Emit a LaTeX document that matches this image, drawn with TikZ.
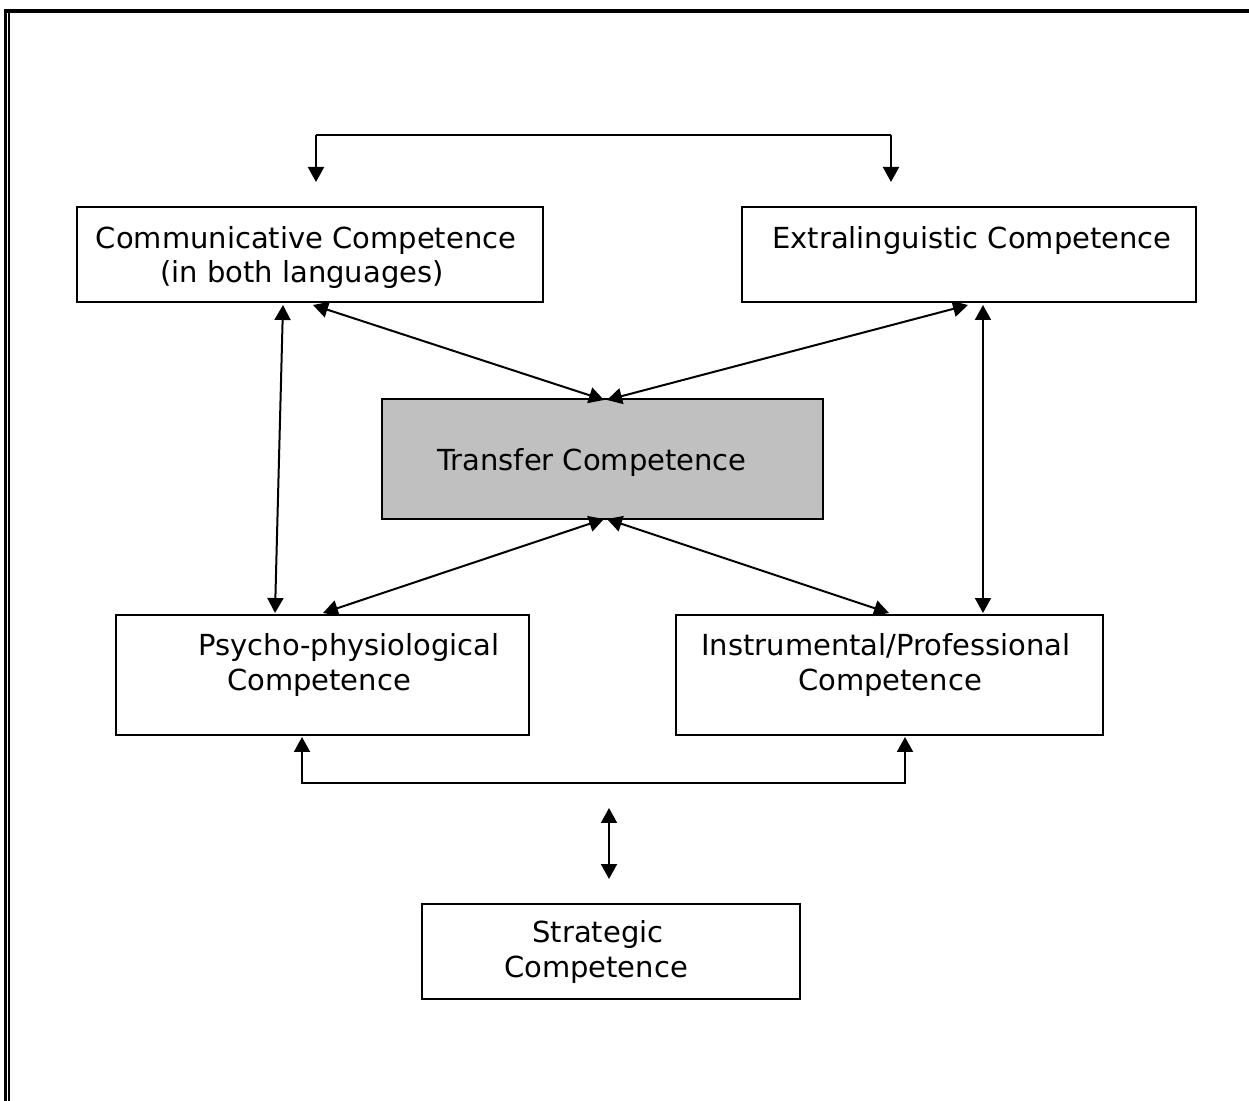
\documentclass[tikz,border=0pt]{standalone}
\usepackage{fontspec}
\setmainfont{DejaVu Sans}
\usetikzlibrary{arrows.meta}
\definecolor{boxgray}{RGB}{192,192,192}
\begin{document}
\begin{tikzpicture}[x=0.02cm,y=-0.02cm,
  box/.style={draw=black,line width=0.04cm,inner sep=0pt,outer sep=0pt},
  lbl/.style={anchor=base,inner sep=0pt,font=\fontsize{16.5}{19.8}\selectfont},
  conn/.style={line width=0.04cm,-{Triangle[length=0.3cm,width=0.32cm]}},
  dconn/.style={line width=0.04cm,{Triangle[length=0.3cm,width=0.32cm]}-{Triangle[length=0.3cm,width=0.32cm]}}]
\useasboundingbox (0,0) rectangle (1249,1101);
% page border: heavy top rule and double left rule
\fill[black] (4,9) rectangle (1249,13);
\fill[black] (4,9) rectangle (6.5,1101);
\fill[black] (8,13) rectangle (9.5,1101);

% boxes
\draw[box] (77,207) rectangle (543,302);
\node[inner sep=0pt] (comm) at (310,254.5) {};
\draw[box] (742,207) rectangle (1196,302);
\node[inner sep=0pt] (extra) at (969,254.5) {};
\draw[box,fill=boxgray] (382,399) rectangle (823,519);
\node[inner sep=0pt] (trans) at (602.5,459) {};
\draw[box] (116,615) rectangle (529,735);
\node[inner sep=0pt] (psy) at (322.5,675) {};
\draw[box] (676,615) rectangle (1103,735);
\node[inner sep=0pt] (instr) at (889.5,675) {};
\draw[box] (422,904) rectangle (800,999);
\node[inner sep=0pt] (strat) at (611,951.5) {};

% labels
\node[lbl] (commA) at (306,249) {Communicative Competence};
\node[lbl] (commB) at (302,283) {(in both languages)};
\node[lbl] (extraA) at (972,249) {Extralinguistic Competence};
\node[lbl] (transA) at (592,471) {Transfer Competence};
\node[lbl] (psyA) at (349,656) {Psycho-physiological};
\node[lbl] (psyB) at (319,691) {Competence};
\node[lbl] (instrA) at (886,656) {Instrumental/Professional};
\node[lbl] (instrB) at (890,691) {Competence};
\node[lbl] (stratA) at (598,942) {Strategic};
\node[lbl] (stratB) at (596,977) {Competence};

% connector end points
\coordinate (tl) at (316,182);
\coordinate (tr) at (891,182);
\coordinate (commD1) at (313,305);
\coordinate (commD2) at (283,305);
\coordinate (extraD1) at (968,305);
\coordinate (extraD2) at (983,305);
\coordinate (transU1) at (604,400);
\coordinate (transU2) at (607,400);
\coordinate (transD1) at (604,519);
\coordinate (transD2) at (607,519);
\coordinate (psyU1) at (275,613);
\coordinate (psyU2) at (323,613);
\coordinate (instrU1) at (889,613);
\coordinate (instrU2) at (983,613);
\coordinate (psyD) at (302,737);
\coordinate (instrD) at (905,737);
\coordinate (sU) at (609,808);
\coordinate (sD) at (609,879);

% connectors
\draw[conn] (tl |- 0,135) -- (tl);
\draw[line width=0.04cm] (tl |- 0,135) -- (tr |- 0,135);
\draw[conn] (tr |- 0,135) -- (tr);
\draw[dconn] (commD1) -- (transU1);
\draw[dconn] (extraD1) -- (transU2);
\draw[dconn] (commD2) -- (psyU1);
\draw[dconn] (extraD2) -- (instrU2);
\draw[dconn] (transD1) -- (psyU2);
\draw[dconn] (transD2) -- (instrU1);
\draw[dconn] (psyD) -- (psyD |- 0,783) -- (instrD |- 0,783) -- (instrD);
\draw[dconn] (sU) -- (sD);
\end{tikzpicture}
\end{document}
